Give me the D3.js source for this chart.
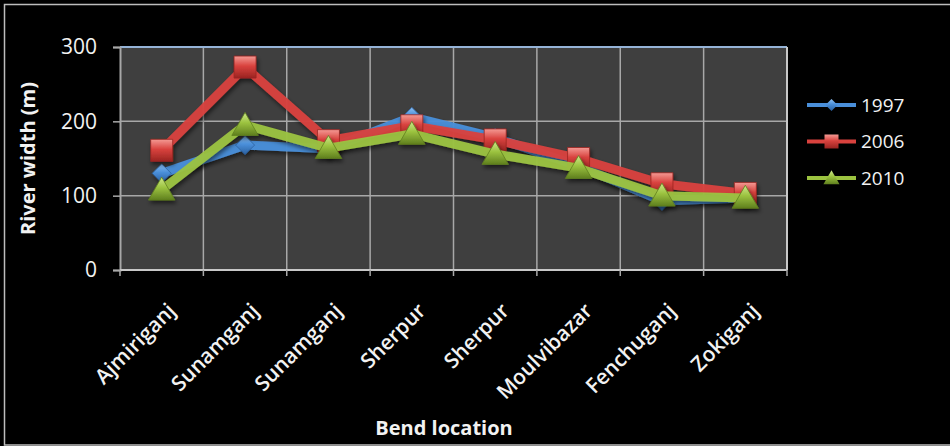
<!DOCTYPE html>
<html>
<head>
<meta charset="utf-8">
<script src="https://cdn.jsdelivr.net/npm/d3@7/dist/d3.min.js"></script>
<style>
  html, body { margin: 0; padding: 0; background: #000; }
  svg { display: block; }
  text { font-family: "Open Sans", "DejaVu Sans", sans-serif; fill: #f2f2f2; }
</style>
</head>
<body>
<svg id="chart" width="950" height="446"></svg>
<script>
// Bend locations along the river (two bends each at Sunamganj and Sherpur)
const categories = ["Ajmiriganj", "Sunamganj", "Sunamganj", "Sherpur", "Sherpur", "Moulvibazar", "Fenchuganj", "Zokiganj"];
// River width (m) per survey year
const years = ["1997", "2006", "2010"];
const width1997 = [130, 168, 163, 206, 178, 140, 93, 97];
const width2006 = [161, 273, 174, 194, 175, 150, 116, 103];
const width2010 = [108, 195, 164, 183, 156, 137, 100, 97];
const yTicks = [0, 100, 200, 300];

const series = [
  { name: years[0], values: width1997, color: "#4a8fda", dark: "#2a5f9e", light: "#8ec0f2", shape: "diamond" },
  { name: years[1], values: width2006, color: "#d9423e", dark: "#9a2421", light: "#f49a94", shape: "square" },
  { name: years[2], values: width2010, color: "#9cc340", dark: "#5f7f1e", light: "#cfe88c", shape: "triangle" }
];

const svg = d3.select("#chart");
const W = 950, H = 446;
const plot = { left: 120, right: 787, top: 47, bottom: 270 };

// Outer frame
svg.append("rect").attr("x", 0).attr("y", 0).attr("width", W).attr("height", H).attr("fill", "#000");
svg.append("rect").attr("x", 4.5).attr("y", 4.5).attr("width", W).attr("height", 440.5)
  .attr("fill", "none").attr("stroke", "#bdbdbd").attr("stroke-width", 1.5);

const defs = svg.append("defs");
const shadow = defs.append("filter").attr("id", "shadow")
  .attr("x", "-20%").attr("y", "-20%").attr("width", "140%").attr("height", "160%");
shadow.append("feDropShadow").attr("dx", 1.5).attr("dy", 3).attr("stdDeviation", 2)
  .attr("flood-color", "#000").attr("flood-opacity", 0.55);

series.forEach((s, i) => {
  const g = defs.append("linearGradient").attr("id", "grad" + i)
    .attr("x1", "0").attr("y1", "0").attr("x2", "0").attr("y2", "1");
  g.append("stop").attr("offset", "0%").attr("stop-color", s.light);
  g.append("stop").attr("offset", "45%").attr("stop-color", s.color);
  g.append("stop").attr("offset", "100%").attr("stop-color", s.dark);
});

const x = d3.scaleBand().domain(d3.range(categories.length)).range([plot.left, plot.right]);
const y = d3.scaleLinear().domain([0, 300]).range([plot.bottom, plot.top]);
const cx = i => x(i) + x.bandwidth() / 2;

// Plot area background
svg.append("rect").attr("x", plot.left).attr("y", plot.top)
  .attr("width", plot.right - plot.left).attr("height", plot.bottom - plot.top)
  .attr("fill", "#3f3f3f");

// Horizontal gridlines
svg.append("g").selectAll("line").data(yTicks.filter(t => t > 0)).join("line")
  .attr("x1", plot.left).attr("x2", plot.right)
  .attr("y1", d => y(d)).attr("y2", d => y(d))
  .attr("stroke", "#a8a8a8").attr("stroke-width", 1.5);

// Vertical gridlines at category boundaries
svg.append("g").selectAll("line").data(d3.range(1, categories.length)).join("line")
  .attr("x1", d => x(d)).attr("x2", d => x(d))
  .attr("y1", plot.top).attr("y2", plot.bottom)
  .attr("stroke", "#a8a8a8").attr("stroke-width", 1.5);

// Plot border: blue top, grey right
svg.append("line").attr("x1", plot.left).attr("x2", plot.right).attr("y1", plot.top).attr("y2", plot.top)
  .attr("stroke", "#95b3d7").attr("stroke-width", 2);
svg.append("line").attr("x1", plot.right).attr("x2", plot.right).attr("y1", plot.top).attr("y2", plot.bottom)
  .attr("stroke", "#c8c8c8").attr("stroke-width", 2);

// Y axis
const yAxis = svg.append("g").attr("transform", `translate(${plot.left},0)`)
  .call(d3.axisLeft(y).tickValues(yTicks).tickSize(7).tickPadding(16));
yAxis.select(".domain").attr("stroke", "#a8a8a8").attr("stroke-width", 2);
yAxis.selectAll(".tick line").attr("stroke", "#a8a8a8").attr("stroke-width", 1.5);
yAxis.selectAll(".tick text").attr("font-size", 21).attr("fill", "#f2f2f2");

// X axis: ticks at category boundaries, labels at centres
const xAxis = svg.append("g").attr("transform", `translate(0,${plot.bottom})`);
xAxis.append("line").attr("x1", plot.left).attr("x2", plot.right).attr("y1", 0).attr("y2", 0)
  .attr("stroke", "#c8c8c8").attr("stroke-width", 2);
xAxis.selectAll(".xt").data(d3.range(0, categories.length + 1)).join("line").attr("class", "xt")
  .attr("x1", d => plot.left + d * x.bandwidth()).attr("x2", d => plot.left + d * x.bandwidth())
  .attr("y1", 0).attr("y2", 6).attr("stroke", "#a8a8a8").attr("stroke-width", 1.5);
xAxis.selectAll(".xl").data(d3.range(categories.length)).join("text").attr("class", "xl")
  .attr("transform", d => `translate(${cx(d) + 10},${37}) rotate(-45)`)
  .attr("text-anchor", "end").attr("dy", "0.35em")
  .attr("font-size", 21).attr("font-weight", 600)
  .text(d => categories[d]);

// Axis titles
svg.append("text").attr("transform", `translate(35,${(plot.top + plot.bottom) / 2}) rotate(-90)`)
  .attr("text-anchor", "middle").attr("font-size", 20).attr("font-weight", 700)
  .text("River width (m)");
svg.append("text").attr("x", 444).attr("y", 435).attr("text-anchor", "middle")
  .attr("font-size", 20).attr("font-weight", 700).text("Bend location");

// Marker shapes
function markerPath(shape, size) {
  const h = size / 2;
  if (shape === "diamond") return `M0,${-h}L${h},0L0,${h}L${-h},0Z`;
  if (shape === "square") return `M${-h},${-h}H${h}V${h}H${-h}Z`;
  return `M0,${-h * 1.1}L${h * 1.15},${h * 0.9}L${-h * 1.15},${h * 0.9}Z`;
}
const markerSize = { diamond: 19, square: 22, triangle: 23 };

const line = d3.line().x((d, i) => cx(i)).y(d => y(d));

series.forEach((s, si) => {
  const g = svg.append("g").attr("filter", "url(#shadow)");
  g.append("path").attr("d", line(s.values))
    .attr("fill", "none").attr("stroke", s.color).attr("stroke-width", 9)
    .attr("stroke-linejoin", "round").attr("stroke-opacity", 0.95);
  g.selectAll("path.m").data(s.values).join("path").attr("class", "m")
    .attr("transform", (d, i) => `translate(${cx(i)},${y(d)})`)
    .attr("d", markerPath(s.shape, markerSize[s.shape]))
    .attr("fill", `url(#grad${si})`).attr("stroke", s.dark).attr("stroke-width", 0.8);
});

// Legend
const legend = svg.append("g");
series.forEach((s, i) => {
  const ly = 105 + i * 36.5;
  const row = legend.append("g");
  row.append("line").attr("x1", 807).attr("x2", 856).attr("y1", ly).attr("y2", ly)
    .attr("stroke", s.color).attr("stroke-width", 4);
  row.append("path").attr("transform", `translate(831.5,${ly})`)
    .attr("d", markerPath(s.shape, s.shape === "diamond" ? 12 : 14))
    .attr("fill", `url(#grad${i})`);
  row.append("text").attr("x", 861).attr("y", ly).attr("dy", "0.36em")
    .attr("font-size", 19).text(s.name);
});
</script>
</body>
</html>
